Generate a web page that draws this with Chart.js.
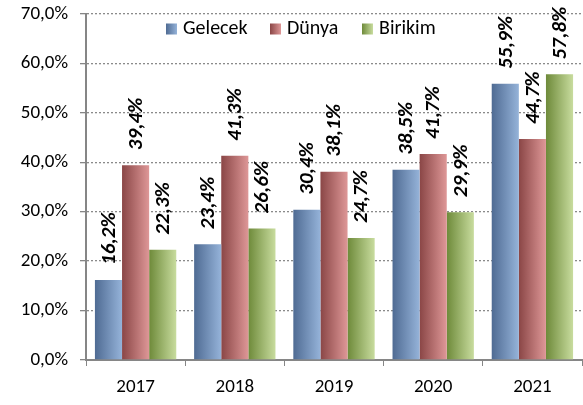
<!DOCTYPE html>
<html>
<head>
<meta charset="utf-8">
<script src="https://cdn.jsdelivr.net/npm/chart.js@4/dist/chart.umd.min.js"></script>
<style>
html,body{margin:0;padding:0;background:#fff;}
#wrap{width:583px;height:405px;position:relative;}
</style>
</head>
<body>
<div id="wrap"><canvas id="c" width="583" height="405"></canvas></div>
<script>
const categories = ['2017', '2018', '2019', '2020', '2021'];
const seriesNames = ['Gelecek', 'Dünya', 'Birikim'];
const gelecek = [16.2, 23.4, 30.4, 38.5, 55.9];
const dunya = [39.4, 41.3, 38.1, 41.7, 44.7];
const birikim = [22.3, 26.6, 24.7, 29.9, 57.8];
const yTicks = [0, 10, 20, 30, 40, 50, 60, 70];

const gradStops = [
  ['#4f6b93', '#95b3d9'],
  ['#8a4646', '#de9797'],
  ['#6e8a3a', '#c8dc9e']
];
const FONT = "Carlito, Lato, 'Open Sans', sans-serif";
const fmt = v => v.toFixed(1).replace('.', ',') + '%';
const legendBoxX = [166, 270, 362];

const gradientPlugin = {
  id: 'grad',
  beforeDatasetsDraw(chart) {
    const ctx = chart.ctx;
    chart.data.datasets.forEach((ds, di) => {
      const meta = chart.getDatasetMeta(di);
      meta.data.forEach(bar => {
        const x0 = bar.x - bar.width / 2, x1 = bar.x + bar.width / 2;
        const g = ctx.createLinearGradient(x0, 0, x1, 0);
        g.addColorStop(0, gradStops[di][0]);
        g.addColorStop(1, gradStops[di][1]);
        bar.options = Object.assign({}, bar.options, {backgroundColor: g});
      });
    });
  }
};

const labelPlugin = {
  id: 'vlabels',
  afterDatasetsDraw(chart) {
    const ctx = chart.ctx;
    chart.data.datasets.forEach((ds, di) => {
      const meta = chart.getDatasetMeta(di);
      meta.data.forEach((bar, i) => {
        ctx.save();
        ctx.translate(bar.x + 1, bar.y - 15);
        ctx.rotate(-Math.PI / 2);
        ctx.font = "italic bold 21px " + FONT;
        ctx.fillStyle = '#000';
        ctx.textAlign = 'left';
        ctx.textBaseline = 'middle';
        ctx.fillText(fmt(ds.data[i]), 0, 0);
        ctx.restore();
      });
    });
  }
};

const legendPlugin = {
  id: 'customLegend',
  afterDraw(chart) {
    const ctx = chart.ctx;
    ctx.save();
    ctx.font = "20px " + FONT;
    ctx.textBaseline = 'middle';
    ctx.textAlign = 'left';
    const yc = 29;
    chart.data.datasets.forEach((ds, i) => {
      const x = legendBoxX[i];
      const g = ctx.createLinearGradient(x, 0, x + 11, 0);
      g.addColorStop(0, gradStops[i][0]);
      g.addColorStop(1, gradStops[i][1]);
      ctx.fillStyle = g;
      ctx.fillRect(x, yc - 5.5, 11, 11);
      ctx.fillStyle = '#000';
      ctx.fillText(ds.label, x + 17, yc);
    });
    ctx.restore();
  }
};

new Chart(document.getElementById('c'), {
  type: 'bar',
  data: {
    labels: categories,
    datasets: [
      {label: seriesNames[0], data: gelecek, backgroundColor: gradStops[0][1]},
      {label: seriesNames[1], data: dunya, backgroundColor: gradStops[1][1]},
      {label: seriesNames[2], data: birikim, backgroundColor: gradStops[2][1]}
    ]
  },
  options: {
    responsive: false,
    animation: false,
    events: [],
    layout: {padding: {top: 14, right: 1, left: 0, bottom: 0}},
    datasets: {bar: {categoryPercentage: 0.82, barPercentage: 1.0, borderWidth: 0}},
    plugins: {
      tooltip: {enabled: false},
      legend: {display: false}
    },
    scales: {
      x: {
        grid: {display: true, drawOnChartArea: false, offset: true, tickLength: 6, color: '#868686', tickColor: '#868686'},
        border: {color: '#868686', width: 2},
        ticks: {font: {family: FONT, size: 19}, color: '#000', padding: 10},
        afterFit(s) { s.height = 45; s.paddingLeft = 0; s.paddingRight = 0; }
      },
      y: {
        min: 0, max: 70,
        afterBuildTicks(s) { s.ticks = yTicks.map(v => ({value: v})); },
        grid: {color: '#8a8a8a', lineWidth: 1.3, tickLength: 6, tickColor: '#868686', tickBorderDash: [], drawTicks: true},
        border: {color: '#868686', width: 2, dash: [2, 2]},
        ticks: {font: {family: FONT, size: 19}, color: '#000', padding: 12, callback: v => fmt(v)},
        afterFit(s) { s.width = 86; s.paddingTop = 0; s.paddingBottom = 0; }
      }
    }
  },
  plugins: [gradientPlugin, labelPlugin, legendPlugin]
});
</script>
</body>
</html>
